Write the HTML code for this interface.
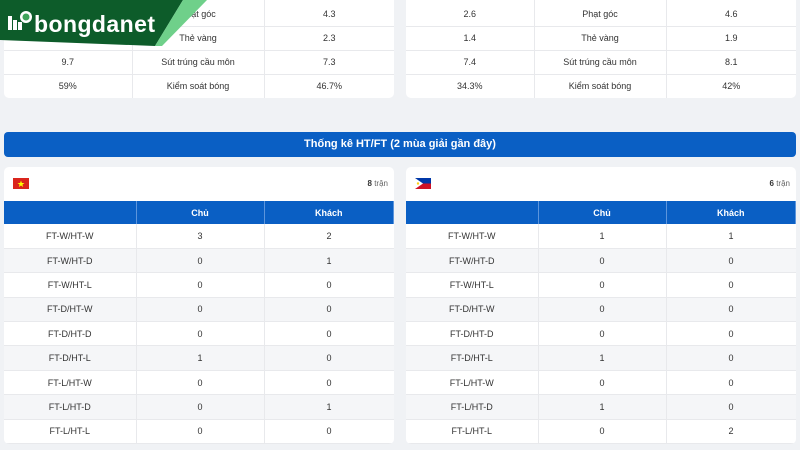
<!DOCTYPE html>
<html><head><meta charset="utf-8"><style>
*{margin:0;padding:0;box-sizing:border-box}
body{width:800px;height:450px;overflow:hidden;background:#f0f2f5;font-family:"Liberation Sans",sans-serif;color:#333;font-size:9px;position:relative}
.card{position:absolute;background:#fff;border-radius:5px;overflow:hidden}
table{border-collapse:collapse;width:100%;table-layout:fixed}
td,th{text-align:center;border-right:1px solid #e8e9ec;border-bottom:1px solid #e8e9ec}
td:last-child,th:last-child{border-right:none}
.st td{height:24px}
.st tr:first-child td{height:26px;padding-top:2px}
.ht th{height:23px;background:#0a5fc4;color:#fff;font-weight:bold;border-right:1px solid #5c95dc;border-bottom:none}
.ht td{height:24.4px}
.ht tr:nth-child(odd) td{background:#f5f6f8}
.hdr{height:34px;position:relative}
.flag{position:absolute;left:9px;top:11px;width:16px;height:11px}
.cnt{position:absolute;right:6px;top:12px;font-size:8px;color:#666}
.cnt b{color:#333}
.banner{position:absolute;left:4px;top:132px;width:792px;height:25px;background:#0a5fc4;border-radius:4px;color:#fff;font-weight:bold;font-size:11px;text-align:center;line-height:25px}
</style></head><body>
<div class="card" style="left:4px;top:0px;width:390px;height:98px;border-radius:0 0 5px 5px">
<table class="st"><col style="width:128px"><col style="width:132px"><col>
<tr><td></td><td>Phạt góc</td><td>4.3</td></tr>
<tr><td></td><td>Thẻ vàng</td><td>2.3</td></tr>
<tr><td>9.7</td><td>Sút trúng cầu môn</td><td>7.3</td></tr>
<tr><td style="border-bottom:none">59%</td><td style="border-bottom:none">Kiểm soát bóng</td><td style="border-bottom:none">46.7%</td></tr></table></div>
<div class="card" style="left:406px;top:0px;width:390px;height:98px;border-radius:0 0 5px 5px">
<table class="st"><col style="width:128px"><col style="width:132px"><col>
<tr><td>2.6</td><td>Phạt góc</td><td>4.6</td></tr>
<tr><td>1.4</td><td>Thẻ vàng</td><td>1.9</td></tr>
<tr><td>7.4</td><td>Sút trúng cầu môn</td><td>8.1</td></tr>
<tr><td style="border-bottom:none">34.3%</td><td style="border-bottom:none">Kiểm soát bóng</td><td style="border-bottom:none">42%</td></tr></table></div>

<svg style="position:absolute;left:0;top:0" width="220" height="50">
<polygon points="0,0 183,0 155,46 0,40" fill="#0d5c2a"/>
<polygon points="183,0 207,0 162,46 155,46" fill="#6fd08a"/>
<rect x="8" y="16" width="4" height="14" fill="#fff"/><rect x="13" y="20" width="4" height="10" fill="#fff"/><rect x="18" y="22" width="4" height="8" fill="#fff"/>
<circle cx="26" cy="17" r="6" fill="#fff"/><circle cx="26" cy="17" r="3.5" fill="#3fa35a"/>
<text x="34" y="32" fill="#fff" font-family="Liberation Sans,sans-serif" font-weight="bold" font-size="23" textLength="121">bongdanet</text>
</svg>

<div class="banner">Thống kê HT/FT (2 mùa giải gần đây)</div>

<div class="card" style="left:4px;top:167px;width:390px;height:277px">
<div class="hdr"><svg class="flag" viewBox="0 0 16 11"><rect width="16" height="11" fill="#da251d"/><polygon points="8,2.5 8.9,5 11.5,5 9.4,6.6 10.2,9 8,7.5 5.8,9 6.6,6.6 4.5,5 7.1,5" fill="#ff0"/></svg><div class="cnt"><b>8</b> trận</div></div>
<table class="ht"><col style="width:132px"><col style="width:128px"><col>
<tr><th></th><th>Chủ</th><th>Khách</th></tr>
<tr><td>FT-W/HT-W</td><td>3</td><td>2</td></tr>
<tr><td>FT-W/HT-D</td><td>0</td><td>1</td></tr>
<tr><td>FT-W/HT-L</td><td>0</td><td>0</td></tr>
<tr><td>FT-D/HT-W</td><td>0</td><td>0</td></tr>
<tr><td>FT-D/HT-D</td><td>0</td><td>0</td></tr>
<tr><td>FT-D/HT-L</td><td>1</td><td>0</td></tr>
<tr><td>FT-L/HT-W</td><td>0</td><td>0</td></tr>
<tr><td>FT-L/HT-D</td><td>0</td><td>1</td></tr>
<tr><td>FT-L/HT-L</td><td>0</td><td>0</td></tr></table></div>

<div class="card" style="left:406px;top:167px;width:390px;height:277px">
<div class="hdr"><svg class="flag" viewBox="0 0 16 11"><rect width="16" height="5.5" fill="#0038a8"/><rect y="5.5" width="16" height="5.5" fill="#ce1126"/><polygon points="0,0 8,5.5 0,11" fill="#fff"/><circle cx="3" cy="5.5" r="1.2" fill="#fcd116"/></svg><div class="cnt"><b>6</b> trận</div></div>
<table class="ht"><col style="width:132px"><col style="width:128px"><col>
<tr><th></th><th>Chủ</th><th>Khách</th></tr>
<tr><td>FT-W/HT-W</td><td>1</td><td>1</td></tr>
<tr><td>FT-W/HT-D</td><td>0</td><td>0</td></tr>
<tr><td>FT-W/HT-L</td><td>0</td><td>0</td></tr>
<tr><td>FT-D/HT-W</td><td>0</td><td>0</td></tr>
<tr><td>FT-D/HT-D</td><td>0</td><td>0</td></tr>
<tr><td>FT-D/HT-L</td><td>1</td><td>0</td></tr>
<tr><td>FT-L/HT-W</td><td>0</td><td>0</td></tr>
<tr><td>FT-L/HT-D</td><td>1</td><td>0</td></tr>
<tr><td>FT-L/HT-L</td><td>0</td><td>2</td></tr></table></div>
</body></html>
